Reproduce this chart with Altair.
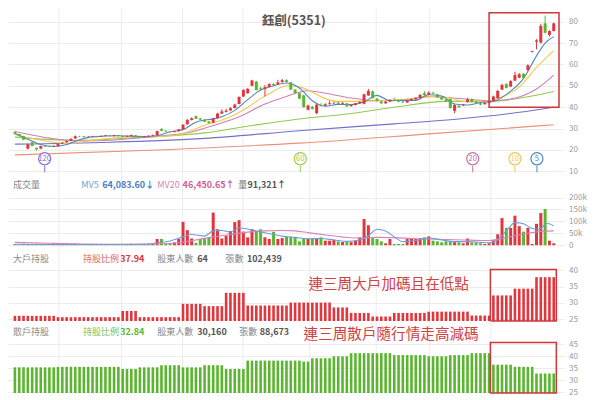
import altair as alt
import pandas as pd

# ---------------- data ----------------
TITLE = "鈺創(5351)"
idx = list(range(126))
opens = [28.3,27.4,26.4,20.6,23.6,20.9,20.6,21.9,21.8,21.7,
         21.8,23.0,23.6,24.2,25.4,26.3,26.4,26.1,26.2,26.4,
         26.2,26.5,26.8,26.5,26.9,26.5,26.2,26.5,26.8,26.3,
         26.0,26.3,26.6,26.9,29.8,29.0,28.6,28.4,28.8,29.6,
         32.0,34.0,35.8,34.8,34.2,33.3,32.8,34.8,37.0,37.8,
         38.5,39.6,41.5,45.0,46.5,50.0,52.0,48.8,48.5,49.5,
         50.8,50.6,51.8,52.6,51.6,48.2,46.5,45.5,38.8,40.2,
         37.2,41.0,40.8,41.4,41.8,42.2,41.6,41.8,40.5,41.0,
         41.8,41.6,45.5,47.4,44.0,42.6,41.8,42.6,43.4,43.0,
         42.6,42.2,43.2,43.6,44.3,46.5,45.8,46.8,46.0,44.6,
         43.6,43.8,38.3,40.6,40.8,42.5,43.8,42.6,41.8,41.4,
         42.0,43.0,44.2,48.2,50.8,49.6,52.4,53.8,55.6,57.4,
         65.8,70.6,70.2,79.2,73.8,75.6]
closes = [27.6,26.5,24.8,22.6,21.9,20.3,21.8,21.6,21.5,21.9,
          22.9,23.4,24.2,25.2,26.4,26.2,26.0,26.2,26.4,26.1,
          26.5,26.8,26.5,26.9,26.5,26.2,26.5,26.9,26.3,26.0,
          26.3,26.6,26.9,28.8,29.0,28.6,28.4,28.8,29.6,31.8,
          34.0,34.8,34.6,34.2,33.2,32.6,34.6,37.0,38.0,38.4,
          39.5,41.2,44.8,48.0,48.6,52.5,48.0,48.3,49.3,50.8,
          50.3,51.6,52.6,51.8,48.2,46.6,44.0,40.0,40.8,39.2,
          41.2,40.6,41.4,41.8,42.0,41.6,42.0,40.4,41.0,41.8,
          42.4,46.0,47.6,44.2,43.0,41.8,42.6,43.4,43.0,42.6,
          42.2,43.2,43.8,44.3,45.8,45.6,46.8,46.4,44.6,43.6,
          42.8,39.6,41.0,40.0,41.2,43.6,42.4,41.6,41.2,42.0,
          42.8,45.0,47.6,50.4,49.0,52.2,55.0,55.4,53.6,59.6,
          66.2,71.2,78.0,74.8,75.6,79.2]
highs = [28.8,27.6,26.6,23.0,23.9,21.2,22.0,22.2,22.0,22.2,
         23.1,23.6,24.4,25.4,26.8,26.6,26.6,26.5,26.6,26.6,
         26.8,27.0,27.0,27.1,27.1,26.7,26.8,27.2,27.0,26.5,
         26.6,26.8,27.2,29.0,30.2,29.2,28.8,29.0,29.8,32.0,
         34.5,35.2,36.0,35.0,34.4,33.6,35.0,37.4,39.0,39.2,
         40.0,41.6,45.0,48.4,48.9,52.8,52.3,49.5,50.3,51.2,
         51.2,52.8,53.2,53.0,51.8,48.4,46.8,45.8,41.2,40.5,
         41.5,41.8,41.8,43.0,42.6,42.5,42.3,42.0,41.3,42.0,
         42.8,46.3,48.5,47.8,44.2,43.0,42.9,43.8,44.5,43.3,
         42.9,43.4,44.0,44.6,46.0,47.5,47.5,47.2,46.2,44.8,
         44.0,44.0,41.3,41.0,41.5,44.4,44.0,43.0,42.0,42.3,
         43.0,45.4,48.0,51.0,51.2,52.6,56.6,56.0,56.0,60.0,
         66.4,71.8,79.0,82.8,76.0,79.5]
lows = [27.2,26.2,24.5,20.3,21.6,19.6,20.4,21.4,21.3,21.5,
        21.6,22.8,23.4,24.0,25.2,25.9,25.8,25.9,26.0,25.9,
        26.0,26.3,26.3,26.3,26.3,26.0,26.0,26.3,26.1,25.8,
        25.8,26.1,26.4,26.8,28.8,28.4,28.2,28.2,28.6,29.5,
        31.8,33.8,34.4,33.9,33.0,32.2,32.5,34.6,36.8,37.5,
        38.2,39.4,41.3,44.8,46.3,49.8,47.8,47.5,45.0,49.3,
        50.0,50.4,51.5,51.5,48.0,46.4,43.8,39.8,38.5,38.9,
        36.8,40.3,40.5,41.2,41.5,41.3,41.3,40.2,40.2,40.8,
        41.6,41.4,45.3,44.0,42.7,41.5,41.6,42.4,42.8,42.3,
        41.9,42.0,43.0,43.4,44.1,45.3,45.6,46.0,44.4,43.3,
        42.5,39.4,37.2,39.8,40.5,42.2,42.2,41.4,40.9,41.2,
        41.8,42.8,44.0,48.0,48.8,49.4,52.2,53.5,53.2,57.0,
        65.6,67.0,69.8,74.5,73.0,75.4]
volume_k = [5,4,6,5,4,6,5,4,3,4,5,3,4,5,6,4,3,4,3,4,5,3,4,3,4,3,4,5,3,4,3,4,5,
            26,26,8,8,12,26,98,63,28,10,26,26,33,137,67,28,40,60,97,105,57,33,67,57,67,33,26,56,26,30,35,35,33,
            16,30,26,26,30,33,19,19,23,16,13,13,13,19,33,110,84,30,26,16,8,26,5,5,5,26,26,26,30,33,
            37,19,16,12,16,16,13,12,8,28,12,12,8,5,8,21,46,114,73,73,124,80,57,73,5,90,135,152,19,8]
big_pct = [26.0,26.0,26.0,26.0,26.0,26.0,26.0,26.0,26.0,26.0,
           25.6,25.6,25.6,25.6,25.6,25.6,25.6,25.6,25.6,25.6,
           25.6,25.6,25.6,25.6,25.6,27.5,27.5,27.5,27.5,25.6,
           25.6,25.6,25.6,25.6,25.6,25.6,25.6,25.6,25.6,29.7,
           29.7,29.7,29.7,29.7,29.0,29.0,29.0,29.0,29.0,33.1,
           33.1,33.1,33.1,33.1,29.2,29.2,29.2,29.2,29.2,29.2,
           29.2,29.2,29.2,29.2,30.1,30.1,30.1,30.1,30.1,30.1,
           30.1,30.1,30.1,30.1,28.6,28.6,28.6,28.6,26.9,26.9,
           26.9,26.9,26.9,25.8,25.8,25.8,25.8,25.8,26.9,26.9,
           26.9,26.9,26.9,26.9,26.9,26.9,27.3,27.3,27.3,27.3,
           27.3,27.3,27.3,27.3,27.3,27.3,26.1,26.1,26.1,26.1,
           26.1,32.3,32.3,32.3,32.3,32.3,34.4,34.4,34.4,34.4,
           34.4,37.94,37.94,37.94,37.94,37.94]
retail_pct = [35.4,35.4,35.4,35.4,35.4,35.4,35.4,35.4,35.4,35.4,
              35.6,35.6,35.6,35.6,35.6,35.6,35.6,35.6,35.6,35.6,
              35.6,35.6,35.6,35.6,35.6,34.7,34.7,34.7,34.7,35.4,
              35.4,35.4,35.4,35.4,36.3,36.3,36.3,36.3,36.3,35.4,
              35.4,35.4,35.4,35.4,36.3,36.3,36.3,36.3,36.3,34.7,
              34.7,34.7,34.7,34.7,38.2,38.2,38.2,38.2,38.2,38.2,
              38.2,38.2,38.2,38.2,38.2,38.2,38.2,37.8,37.8,39.2,
              39.2,39.2,39.2,39.2,40.0,40.0,40.0,40.0,41.3,41.3,
              41.3,41.3,41.3,41.3,41.3,41.3,41.3,41.3,40.5,40.5,
              40.5,40.5,40.5,40.5,40.5,40.5,40.0,40.0,40.0,40.0,
              40.0,40.5,40.5,40.5,40.5,40.5,41.3,41.3,41.3,41.3,
              41.3,36.5,36.5,36.5,36.5,36.5,35.6,35.6,35.6,35.6,
              35.6,32.84,32.84,32.84,32.84,32.84]

# moving averages read at sparse candle indices
ma5_i = [0,3,6,9,12,15,18,24,30,33,36,39,42,45,48,51,54,57,60,63,66,69,72,75,78,81,84,87,90,93,96,99,102,105,108,111,115,118,121,123,125]
ma5_v = [27.8,25.0,22.5,21.6,22.5,24.8,26.1,26.6,26.3,26.6,28.5,29.5,33.0,34.2,35.5,38.5,43.5,48.0,50.0,51.3,49.0,43.0,40.5,41.3,41.2,42.5,45.5,43.0,43.2,43.2,45.8,45.2,41.5,41.0,42.2,42.7,47.5,53.5,64.0,70.0,73.0]
ma10_i = [0,6,12,18,24,30,33,38,44,50,54,57,60,63,66,69,72,75,80,85,90,95,98,101,105,110,112,117,121,125]
ma10_v = [27.2,24.5,23.0,24.5,25.8,26.3,26.2,27.2,31.5,35.5,40.0,44.0,47.5,50.0,49.5,47.0,44.0,42.7,42.7,43.0,43.6,44.5,45.2,44.2,42.5,42.8,44.0,49.5,58.6,66.5]
ma20_i = [0,10,16,22,30,36,40,46,52,58,63,66,68,72,78,84,90,96,100,106,110,114,118,121,125]
ma20_v = [28.6,25.0,24.2,24.5,25.8,27.0,28.0,31.4,35.5,41.5,45.0,47.0,47.7,46.5,44.3,43.0,43.5,45.0,44.5,43.6,43.0,43.5,45.5,48.5,55.0]
ma60_i = [0,14,30,44,55,66,77,88,100,111,118,125]
ma60_v = [26.0,24.5,26.0,28.0,31.4,34.5,36.8,40.0,42.7,42.8,44.5,47.3]
ma120_i = [0,22,44,66,88,103,114,122,125]
ma120_v = [22.7,23.6,25.4,29.0,32.2,34.5,36.8,39.0,40.0]
ma240_i = [0,33,66,96,125]
ma240_v = [17.7,20.0,23.2,27.5,31.8]

mv5_i = [0,10,20,30,33,36,39,41,44,46,48,50,52,54,56,58,60,62,65,68,71,74,77,80,82,84,86,88,90,93,96,99,102,105,108,110,112,114,116,118,120,121.5,123.5,125]
mv5_v = [4,3,3,4,10,18,35,45,38,60,62,55,72,68,60,52,45,38,33,27,28,22,16,22,40,67,60,35,15,20,30,22,15,15,12,10,22,60,95,90,70,67,92,80]
mv20_i = [0,8,16,25,33,38,42,46,50,54,58,62,65,68,72,76,80,84,88,92,96,100,104,108,110,113,116,119,122,125]
mv20_v = [12,8,5,4,5,10,22,35,45,55,60,62,60,53,43,35,30,33,32,28,26,24,22,20,20,28,40,50,58,60]

month_idx = [10.2, 24.7, 38.9, 52.9, 68.4, 83.8, 96.2, 110.4]
marker_idx = [6.9, 66.2, 106.2, 116.0, 121.1]
marker_txt = ["120", "60", "20", "10", "5"]

vol_head = [("成交量", "n"), ("MV5", "n"), ("64,083.60↓", "b"), ("MV20", "n"), ("46,450.65↑", "b"), ("量", "n"), ("91,321↑", "b")]
big_head = [("大戶持股", "n"), ("持股比例", "n"), ("37.94", "b"), ("股東人數", "n"), ("64", "b"), ("張數", "n"), ("102,439", "b")]
ret_head = [("散戶持股", "n"), ("持股比例", "n"), ("32.84", "b"), ("股東人數", "n"), ("30,160", "b"), ("張數", "n"), ("88,673", "b")]
note_big = "連三周大戶加碼且在低點"
note_ret = "連三周散戶隨行情走高減碼"

# ---------------- styles / layout ----------------
RED = "#e0363d"
GREEN = "#5cb531"
BOX = "#d0363b"
GRID = "#ececec"
FONT = "Noto Sans CJK TC"
W = 556
SX = 556 / 570.0
H1, H2, H3, H4 = 165, 74, 73, 72
ma_cols = {"MA240": "#ec9179", "MA120": "#7470c8", "MA60": "#96c850", "MA20": "#cf80b8", "MA10": "#f2c94c", "MA5": "#4f86c6"}
marker_cols = ["#8e6fd0", "#9ccc4a", "#c870a8", "#ecc94b", "#4f86c6"]
vol_head_x = [5, 75, 96.5, 153, 179, 236, 245.5]
vol_head_c = ["#8a8a8a", "#6d9fd8", "#4a80c4", "#d983b4", "#cf5f98", "#777777", "#555555"]
big_head_x = [5, 77, 115, 153, 194, 223, 245]
big_head_c = ["#8a8a8a", "#e06a6a", "#d9363e", "#8a8a8a", "#555555", "#8a8a8a", "#555555"]
ret_head_x = [5, 77, 115, 153, 194, 237, 258]
ret_head_c = ["#8a8a8a", "#7cc35a", "#5cb531", "#8a8a8a", "#555555", "#8a8a8a", "#555555"]

XS = alt.Scale(domain=[-0.444, 126.22], nice=False, zero=False)


def X(field="i:Q"):
    return alt.X(field, scale=XS, axis=None)


def yaxis(values, expr=None):
    kw = dict(orient="right", values=values, title=None, domain=False, ticks=False,
              labelColor="#9a9a9a", labelFontSize=8, labelPadding=4.6, labelFont=FONT,
              grid=True, gridColor=GRID, gridWidth=1)
    if expr:
        kw["labelExpr"] = expr
    return alt.Axis(**kw)


B_MIN = 24.41
R_MIN = 24.71
PS = alt.Scale(domain=[8.747, 85.91], nice=False, zero=False)
PA = yaxis([10, 20, 30, 40, 50, 60, 70, 80])
VS = alt.Scale(domain=[-11.77, 299.16], nice=False, zero=False)
VA = yaxis([0, 50, 100, 150, 200], "datum.value == 0 ? '0' : datum.value + 'k'")
BS = alt.Scale(domain=[B_MIN, 46.94], nice=False, zero=False)
BA = yaxis([25, 30, 35, 40])
RS = alt.Scale(domain=[R_MIN, 54.71], nice=False, zero=False)
RA = yaxis([25, 30, 35, 40, 45])

candles = pd.DataFrame({"i": idx, "o": opens, "h": highs, "l": lows, "c": closes,
                        "v": volume_k, "b": big_pct, "r": retail_pct})
updown = alt.condition("datum.c >= datum.o", alt.value(RED), alt.value(GREEN))

grid_df = pd.DataFrame({"i": month_idx})


def vgrid():
    return alt.Chart(grid_df).mark_rule(color=GRID, strokeWidth=1).encode(x=X())


def header(items, xs, cols, ypix):
    df = pd.DataFrame({"t": [t for t, _ in items], "w": [w for _, w in items],
                       "px": [x * SX for x in xs], "col": cols})
    layers = []
    for w, fw in (("n", "normal"), ("b", "bold")):
        layers.append(
            alt.Chart(df).transform_filter(f"datum.w == '{w}'").mark_text(
                align="left", baseline="middle", fontSize=9, font=FONT, fontWeight=fw
            ).encode(x=alt.X("px:Q", scale=None, axis=None), y=alt.value(ypix),
                     text="t:N", color=alt.Color("col:N", scale=None))
        )
    return layers


# ---------------- price panel ----------------
ma_rows = []
for name, ii, vv in (("MA240", ma240_i, ma240_v), ("MA120", ma120_i, ma120_v), ("MA60", ma60_i, ma60_v),
                     ("MA20", ma20_i, ma20_v), ("MA10", ma10_i, ma10_v), ("MA5", ma5_i, ma5_v)):
    for a, b in zip(ii, vv):
        ma_rows.append({"name": name, "i": a, "v": b, "col": ma_cols[name]})
ma_df = pd.DataFrame(ma_rows)

ma_lines = alt.Chart(ma_df).mark_line(strokeWidth=1.1, interpolate="monotone").encode(
    x=X(), y=alt.Y("v:Q", scale=PS, axis=PA), color=alt.Color("col:N", scale=None),
    detail="name:N", order="i:Q")
wick = alt.Chart(candles).mark_rule(strokeWidth=1).encode(
    x=X(), y=alt.Y("l:Q", scale=PS, axis=PA), y2="h:Q", color=updown)
body = alt.Chart(candles).mark_bar(size=3).encode(
    x=X(), y=alt.Y("o:Q", scale=PS, axis=PA), y2="c:Q", color=updown)

mk = pd.DataFrame({"i": marker_idx, "t": marker_txt, "col": marker_cols})
stems = alt.Chart(mk).mark_rule(strokeWidth=1).encode(
    x=X(), y=alt.value(156.5), y2=alt.value(163.3), color=alt.Color("col:N", scale=None))
circles = alt.Chart(mk).mark_point(shape="circle", filled=True, fill="white", fillOpacity=1,
                                   size=146, strokeWidth=1.2).encode(
    x=X(), y=alt.value(149.7), stroke=alt.Stroke("col:N", scale=None))
ctext = alt.Chart(mk).mark_text(fontSize=7.5, font=FONT, align="center", baseline="middle").encode(
    x=X(), y=alt.value(149.9), text="t:N", color=alt.Color("col:N", scale=None))

pbox = alt.Chart(pd.DataFrame({"x1": [110.0], "x2": [126.22], "y1": [40.0], "y2": [84.1]})).mark_rect(
    fillOpacity=0, stroke=BOX, strokeWidth=1.5).encode(
    x=alt.X("x1:Q", scale=XS, axis=None), x2="x2:Q", y=alt.Y("y1:Q", scale=PS, axis=PA), y2="y2:Q")
title = alt.Chart(pd.DataFrame({"t": [TITLE]})).mark_text(
    fontSize=12.5, font=FONT, fontWeight="bold", color="#555555", align="center", baseline="middle").encode(
    text="t:N", x=alt.value(293 * SX), y=alt.value(11.7))

price = alt.layer(vgrid(), ma_lines, wick, body, stems, circles, ctext, pbox, title).properties(width=W, height=H1)

# ---------------- volume panel ----------------
mv_rows = []
for name, ii, vv, col in (("MV20", mv20_i, mv20_v, "#d982b8"), ("MV5", mv5_i, mv5_v, "#6a9fd8")):
    for a, b in zip(ii, vv):
        mv_rows.append({"name": name, "i": a, "v": b, "col": col})
mv_df = pd.DataFrame(mv_rows)

vbars = alt.Chart(candles).mark_bar(size=3).encode(
    x=X(), y=alt.Y("v:Q", scale=VS, axis=VA), y2=alt.Y2Datum(0), color=updown)
vlines = alt.Chart(mv_df).mark_line(strokeWidth=1.1, interpolate="monotone").encode(
    x=X(), y=alt.Y("v:Q", scale=VS, axis=VA), color=alt.Color("col:N", scale=None),
    detail="name:N", order="i:Q")
vol = alt.layer(vgrid(), vbars, vlines, *header(vol_head, vol_head_x, vol_head_c, 10.9)).properties(width=W, height=H2)

# ---------------- big holders panel ----------------
bbars = alt.Chart(candles).mark_bar(size=2.6, color=RED).encode(
    x=X(), y=alt.Y("b:Q", scale=BS, axis=BA), y2=alt.Y2Datum(B_MIN))
bbox = alt.Chart(pd.DataFrame({"x1": [110.3], "x2": [125.6], "y1": [40.3]})).mark_rect(
    fillOpacity=0, stroke=BOX, strokeWidth=1.5).encode(
    x=alt.X("x1:Q", scale=XS, axis=None), x2="x2:Q", y=alt.Y("y1:Q", scale=BS, axis=BA), y2=alt.Y2Datum(B_MIN))
bnote = alt.Chart(pd.DataFrame({"t": [note_big]})).mark_text(
    fontSize=14.6, font=FONT, color="#d2403f", align="left", baseline="middle").encode(
    text="t:N", x=alt.value(308 * SX), y=alt.value(36.6))
big = alt.layer(vgrid(), bbars, bbox, bnote, *header(big_head, big_head_x, big_head_c, 10.8)).properties(width=W, height=H3)

# ---------------- retail panel ----------------
rbars = alt.Chart(candles).mark_bar(size=2.6, color=GREEN).encode(
    x=X(), y=alt.Y("r:Q", scale=RS, axis=RA), y2=alt.Y2Datum(R_MIN))
rbox = alt.Chart(pd.DataFrame({"x1": [110.3], "x2": [125.6], "y1": [45.8]})).mark_rect(
    fillOpacity=0, stroke=BOX, strokeWidth=1.5).encode(
    x=alt.X("x1:Q", scale=XS, axis=None), x2="x2:Q", y=alt.Y("y1:Q", scale=RS, axis=RA), y2=alt.Y2Datum(R_MIN))
rnote = alt.Chart(pd.DataFrame({"t": [note_ret]})).mark_text(
    fontSize=14.6, font=FONT, color="#d2403f", align="left", baseline="middle").encode(
    text="t:N", x=alt.value(303 * SX), y=alt.value(13.6))
ret = alt.layer(vgrid(), rbars, rbox, rnote, *header(ret_head, ret_head_x, ret_head_c, 10.7)).properties(width=W, height=H4)

chart = alt.vconcat(price, vol, big, ret, spacing=0, bounds="flush").properties(padding=0)
chart = chart.configure(font=FONT).configure_view(stroke=None)
chart.save("out.html", embed_options={"renderer": "svg", "actions": False})
